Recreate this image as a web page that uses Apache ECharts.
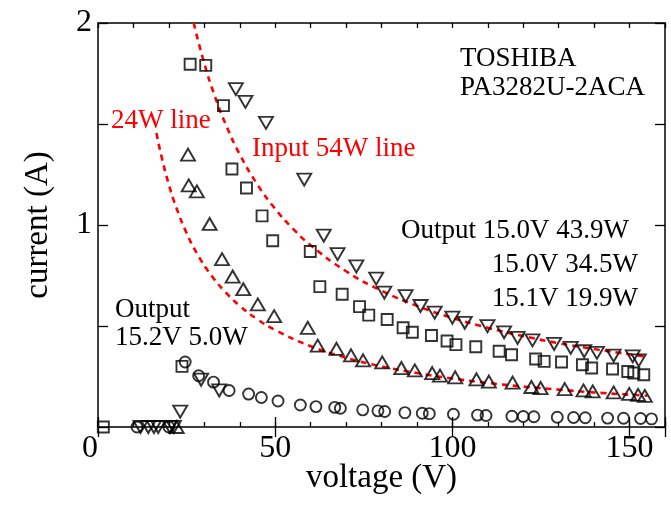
<!DOCTYPE html>
<html>
<head>
<meta charset="utf-8">
<script src="https://cdn.jsdelivr.net/npm/echarts@6/dist/echarts.min.js"></script>
<style>
  html, body { margin: 0; padding: 0; background: #fff; }
  #chart { width: 671px; height: 508px; }
</style>
</head>
<body>
<div id="chart"></div>
<script>
// Adapter TOSHIBA PA3282U-2ACA: input current vs. input voltage at four loads.

// Output 15.2 V / 5.0 W (circles)
const volt5W = [11.0, 20.0, 24.6, 28.4, 32.6, 37.0, 42.5, 46.1, 50.8, 57.1, 61.5, 66.8, 68.4, 74.7, 79.0, 80.9, 86.6, 91.5, 93.5, 100.3, 107.1, 109.5, 116.8, 120.0, 123.0, 129.6, 134.2, 137.5, 143.8, 148.3, 153.1, 156.2];
const curr5W = [0, 0, 0.322, 0.254, 0.222, 0.181, 0.163, 0.146, 0.129, 0.109, 0.101, 0.097, 0.093, 0.085, 0.080, 0.077, 0.071, 0.068, 0.066, 0.063, 0.059, 0.057, 0.053, 0.052, 0.051, 0.048, 0.047, 0.046, 0.044, 0.043, 0.042, 0.040];

// Output 15.1 V / 19.9 W (up triangles)
const volt199W = [22.2, 25.4, 25.6, 27.9, 31.5, 35.0, 38.0, 41.0, 45.1, 49.7, 59.2, 62.0, 67.3, 71.4, 74.8, 80.2, 85.6, 89.4, 94.3, 96.5, 100.8, 106.8, 110.3, 117.0, 122.3, 124.9, 131.7, 137.0, 139.6, 145.5, 149.9, 152.4, 154.3];
const curr199W = [0, 1.348, 1.196, 1.166, 1.005, 0.831, 0.745, 0.682, 0.607, 0.549, 0.491, 0.403, 0.387, 0.355, 0.330, 0.320, 0.292, 0.280, 0.267, 0.254, 0.246, 0.236, 0.225, 0.220, 0.198, 0.193, 0.188, 0.181, 0.176, 0.171, 0.164, 0.159, 0.154];

// Output 15.0 V / 34.5 W (squares)
const volt345W = [1.5, 23.7, 26.0, 30.4, 35.4, 37.8, 41.9, 46.3, 49.3, 59.9, 62.6, 68.9, 73.8, 76.4, 81.6, 86.1, 88.7, 94.1, 98.5, 101.0, 106.6, 113.2, 116.7, 123.5, 125.9, 130.8, 136.7, 139.3, 145.2, 149.5, 151.2, 154.0];
const curr345W = [0, 0.300, 1.796, 1.790, 1.591, 1.277, 1.183, 1.045, 0.922, 0.869, 0.695, 0.657, 0.596, 0.554, 0.532, 0.491, 0.469, 0.453, 0.426, 0.408, 0.397, 0.375, 0.358, 0.337, 0.325, 0.322, 0.308, 0.292, 0.287, 0.275, 0.267, 0.259];

// Output 15.0 V / 43.9 W (down triangles)
const volt439W = [12.0, 14.2, 15.8, 17.0, 20.3, 21.4, 23.2, 29.1, 34.2, 38.9, 41.6, 47.4, 58.2, 63.7, 67.6, 72.9, 78.5, 80.8, 86.8, 91.0, 95.0, 100.0, 103.5, 109.9, 114.6, 118.4, 122.6, 128.7, 133.4, 137.2, 140.8, 145.5, 150.9, 152.6];
const curr439W = [0, 0, 0, 0, 0, 0, 0.076, 0.234, 0.181, 1.673, 1.610, 1.506, 1.225, 0.947, 0.856, 0.795, 0.735, 0.665, 0.648, 0.599, 0.566, 0.541, 0.516, 0.499, 0.469, 0.441, 0.429, 0.411, 0.392, 0.375, 0.367, 0.353, 0.350, 0.330];

// Constant-power reference curves
const volt24Line = [16.5, 18, 20, 22, 25, 28, 32, 36, 40, 45, 50, 60, 70, 80, 90, 100, 110, 120, 130, 140, 150, 155];
const curr24Line = [1.455, 1.333, 1.200, 1.091, 0.960, 0.857, 0.750, 0.667, 0.600, 0.533, 0.480, 0.400, 0.343, 0.300, 0.267, 0.240, 0.218, 0.200, 0.185, 0.171, 0.160, 0.155];
const volt54Line = [27, 30, 33, 36, 40, 45, 50, 55, 60, 70, 80, 90, 100, 110, 120, 130, 140, 150, 155];
const curr54Line = [2.000, 1.800, 1.636, 1.500, 1.350, 1.200, 1.080, 0.982, 0.900, 0.771, 0.675, 0.600, 0.540, 0.491, 0.450, 0.415, 0.386, 0.360, 0.348];

// Axis ranges and labelled ticks
const xMin = 0, xMax = 160, xMinorStep = 10, xMajorStep = 50;
const yMin = 0, yMax = 2, yStep = 0.5;
const xTickLabels = [0, 50, 100, 150];
const yTickLabels = [1, 2];

const FONT = '"Liberation Serif", "Times New Roman", serif';
const RED = '#ff0000';

const pairs = (xs, ys) => xs.map((x, i) => [x, ys[i]]);

const chart = echarts.init(document.getElementById('chart'), null, { renderer: 'canvas' });

const xBase = {
  type: 'value', min: xMin, max: xMax, gridIndex: 0,
  splitLine: { show: false },
  axisLine: { show: true, onZero: false, lineStyle: { color: '#000', width: 1.5 } }
};
const yBase = {
  type: 'value', min: yMin, max: yMax, interval: yStep,
  splitLine: { show: false },
  axisLine: { show: true, onZero: false, lineStyle: { color: '#000', width: 1.5 } },
  axisTick: { show: true, inside: true, length: 10, lineStyle: { color: '#000', width: 1.3 } }
};

const markerStyle = { color: 'rgba(0,0,0,0)', borderColor: '#000', borderWidth: 1.9 };

const option = {
  backgroundColor: '#fff',
  animation: false,
  grid: { left: 98, right: 6, top: 23, bottom: 81, containLabel: false, outerBoundsMode: 'none' },
  xAxis: [
    Object.assign({}, xBase, {
      position: 'bottom', interval: xMinorStep,
      name: 'voltage (V)', nameLocation: 'middle', nameGap: 35, nameMoveOverlap: false,
      nameTextStyle: { fontFamily: FONT, fontSize: 33, color: '#000' },
      axisTick: { show: true, inside: true, length: 5, lineStyle: { color: '#000', width: 1.3 } },
      axisLabel: {
        show: true, margin: 6, fontFamily: FONT, fontSize: 32, color: '#000',
        showMinLabel: true, showMaxLabel: true, hideOverlap: false,
        formatter: v => (v === 0 ? '{z|0}' : (xTickLabels.indexOf(v) >= 0 ? String(v) : '')),
        rich: { z: { fontFamily: FONT, fontSize: 32, color: '#000', padding: [0, 16, 0, 0] } }
      }
    }),
    Object.assign({}, xBase, {
      position: 'bottom', interval: xMajorStep,
      axisLine: { show: false },
      axisTick: { show: true, inside: true, length: 10, lineStyle: { color: '#000', width: 1.3 } },
      axisLabel: { show: false }
    }),
    Object.assign({}, xBase, {
      position: 'top', interval: xMinorStep,
      axisTick: { show: true, inside: true, length: 5, lineStyle: { color: '#000', width: 1.3 } },
      axisLabel: { show: false }
    }),
    Object.assign({}, xBase, {
      position: 'top', interval: xMajorStep,
      axisLine: { show: false },
      axisTick: { show: true, inside: true, length: 10, lineStyle: { color: '#000', width: 1.3 } },
      axisLabel: { show: false }
    })
  ],
  yAxis: [
    Object.assign({}, yBase, {
      position: 'left',
      name: 'current (A)', nameLocation: 'middle', nameGap: 43, nameRotate: 90, nameMoveOverlap: false,
      nameTextStyle: { fontFamily: FONT, fontSize: 33, color: '#000' },
      axisLabel: {
        show: true, margin: 6, fontFamily: FONT, fontSize: 32, color: '#000',
        showMinLabel: true, showMaxLabel: true, hideOverlap: false,
        formatter: v => (yTickLabels.indexOf(v) >= 0 ? String(v) : '')
      }
    }),
    Object.assign({}, yBase, {
      position: 'right',
      axisLabel: { show: false }
    })
  ],
  series: [
    {
      name: '24W line', type: 'line', xAxisIndex: 0, yAxisIndex: 0,
      data: pairs(volt24Line, curr24Line), smooth: true, showSymbol: false, symbol: 'none',
      lineStyle: { color: RED, width: 2.6, type: [6, 5] }, z: 2
    },
    {
      name: 'Input 54W line', type: 'line', xAxisIndex: 0, yAxisIndex: 0,
      data: pairs(volt54Line, curr54Line), smooth: true, showSymbol: false, symbol: 'none',
      lineStyle: { color: RED, width: 2.6, type: [6, 5] }, z: 2
    },
    {
      name: '15.2V 5.0W', type: 'scatter', xAxisIndex: 0, yAxisIndex: 0, clip: false,
      data: pairs(volt5W, curr5W), symbol: 'circle', symbolSize: 11, itemStyle: markerStyle, z: 3
    },
    {
      name: '15.1V 19.9W', type: 'scatter', xAxisIndex: 0, yAxisIndex: 0, clip: false,
      data: pairs(volt199W, curr199W), symbol: 'triangle', symbolSize: [14, 12], itemStyle: markerStyle, z: 3
    },
    {
      name: '15.0V 34.5W', type: 'scatter', xAxisIndex: 0, yAxisIndex: 0, clip: false,
      data: pairs(volt345W, curr345W), symbol: 'rect', symbolSize: 11, itemStyle: markerStyle, z: 3
    },
    {
      name: '15.0V 43.9W', type: 'scatter', xAxisIndex: 0, yAxisIndex: 0, clip: false,
      data: pairs(volt439W, curr439W), symbol: 'triangle', symbolRotate: 180, symbolSize: [14, 12], itemStyle: markerStyle, z: 3
    }
  ],
  graphic: [
    { type: 'text', x: 460, y: 59, style: { text: 'TOSHIBA', font: '27px ' + FONT, fill: '#000', textAlign: 'left', textVerticalAlign: 'middle' } },
    { type: 'text', x: 460, y: 88, style: { text: 'PA3282U-2ACA', font: '27px ' + FONT, fill: '#000', textAlign: 'left', textVerticalAlign: 'middle' } },
    { type: 'text', x: 111, y: 121, style: { text: '24W line', font: '27px ' + FONT, fill: RED, textAlign: 'left', textVerticalAlign: 'middle' } },
    { type: 'text', x: 252, y: 149, style: { text: 'Input 54W line', font: '27px ' + FONT, fill: RED, textAlign: 'left', textVerticalAlign: 'middle' } },
    { type: 'text', x: 629, y: 231, style: { text: 'Output 15.0V 43.9W', font: '27px ' + FONT, fill: '#000', textAlign: 'right', textVerticalAlign: 'middle' } },
    { type: 'text', x: 638, y: 265, style: { text: '15.0V 34.5W', font: '27px ' + FONT, fill: '#000', textAlign: 'right', textVerticalAlign: 'middle' } },
    { type: 'text', x: 638, y: 299, style: { text: '15.1V 19.9W', font: '27px ' + FONT, fill: '#000', textAlign: 'right', textVerticalAlign: 'middle' } },
    { type: 'text', x: 115, y: 310, style: { text: 'Output', font: '27px ' + FONT, fill: '#000', textAlign: 'left', textVerticalAlign: 'middle' } },
    { type: 'text', x: 115, y: 338, style: { text: '15.2V 5.0W', font: '27px ' + FONT, fill: '#000', textAlign: 'left', textVerticalAlign: 'middle' } }
  ]
};

chart.setOption(option);
</script>
</body>
</html>
